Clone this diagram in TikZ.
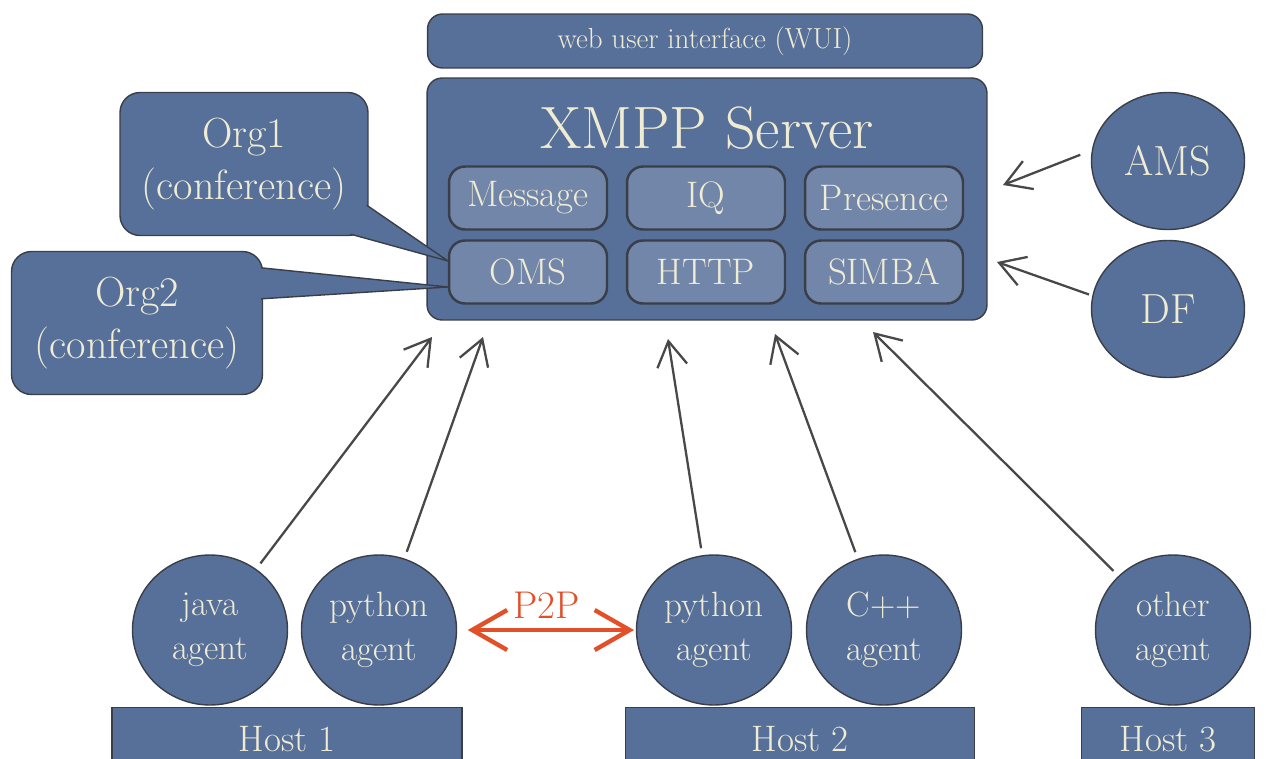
\documentclass[tikz,border=0pt]{standalone}
\usepackage{fontspec}
\usetikzlibrary{arrows.meta,shapes.geometric}

\definecolor{srvblue}{RGB}{87,112,153}
\definecolor{subblue}{RGB}{114,134,170}
\definecolor{edgegray}{RGB}{58,62,72}
\definecolor{cream}{RGB}{240,236,212}
\definecolor{arrowgray}{RGB}{72,72,72}
\definecolor{ptpred}{RGB}{226,80,42}

\begin{document}
\begin{tikzpicture}[x=0.02cm, y=-0.02cm,
        panel/.style={draw=edgegray, fill=srvblue, text=cream, line width=0.8pt},
        part/.style={panel, fill=subblue, rounded corners=0.32cm, line width=1.4pt,
            minimum width=3.16cm, minimum height=1.26cm, font=\fontsize{21}{25}\selectfont},
        agent/.style={panel, ellipse, inner sep=0pt, minimum width=3.1cm, minimum height=3cm,
            align=center, font=\fontsize{20}{25}\selectfont},
        host/.style={panel, anchor=north, minimum height=1.26cm, font=\fontsize{21}{25}\selectfont},
        org/.style={panel, rounded corners=0.4cm, minimum height=2.86cm,
            align=center, font=\fontsize{24}{29.5}\selectfont},
        pointer/.style={fill=srvblue},
        pointeredge/.style={draw=edgegray, line width=0.8pt, line join=round},
        link/.style={-{Straight Barb[length=5mm,width=6mm]}, arrowgray, line width=1.3pt,
            shorten <=4pt}]
        \clip (0,0) rectangle (1277,758);

        % Server
        \node[panel, rounded corners=0.3cm, minimum width=11.1cm, minimum height=1.08cm,
            font=\fontsize{16.5}{20}\selectfont] (wui) at (705,41) {web user interface (WUI)};
        \node[panel, rounded corners=0.3cm, minimum width=11.2cm, minimum height=4.84cm] (server) at (707,199) {};
        \node[text=cream, font=\fontsize{34}{40}\selectfont] (title) at (707,128) {XMPP Server};

        % Conferences
        \node[org, minimum width=4.96cm] (org1) at (244,164) {Org1\\(conference)};
        \node[org, minimum width=5.02cm] (org2) at (137,323) {Org2\\(conference)};
        \coordinate (tip1) at (448,261);
        \coordinate (tip2) at (448,287);
        \coordinate (b1a) at ([shift={(-2,-31)}]org1.south east);
        \coordinate (b1b) at ([shift={(-18,-2)}]org1.south east);
        \coordinate (b2a) at ([shift={(-2,17)}]org2.north east);
        \coordinate (b2b) at ([shift={(-2,48)}]org2.north east);
        \fill[pointer] ([shift={(-12,0)}]b1a) -- (b1a) -- (tip1) -- (b1b) -- ([shift={(-4,-10)}]b1b) -- cycle;
        \draw[pointeredge] (b1a) -- (tip1) -- (b1b);
        \fill[pointer] ([shift={(-10,0)}]b2a) -- (b2a) -- (tip2) -- (b2b) -- ([shift={(-10,0)}]b2b) -- cycle;
        \draw[pointeredge] (b2a) -- (tip2) -- (b2b);

        % Server parts
        \node[part] (msg) at (528,198) {Message};
        \node[part] (iq) at (706,198) {IQ};
        \node[part] (pres) at (884,198) {Presence};
        \node[part] (oms) at (528,272) {OMS};
        \node[part] (http) at (706,272) {HTTP};
        \node[part] (simba) at (884,272) {SIMBA};

        % AMS and DF
        \node[agent, minimum width=3.06cm, minimum height=2.74cm, font=\fontsize{24}{28}\selectfont] (ams) at (1168,161) {AMS};
        \node[agent, minimum width=3.06cm, minimum height=2.74cm, font=\fontsize{24}{28}\selectfont] (df) at (1168,309) {DF};
        \coordinate (ain) at (1003,185);
        \coordinate (din) at (997,262);
        \draw[link, shorten <=7pt] (ams.172) -- (ain);
        \draw[link, shorten <=2pt] (df.170) -- (din);

        % Agents
        \node[agent] (java) at (210,630) {java\\agent};
        \node[agent] (py1) at (379,630) {python\\agent};
        \node[agent] (py2) at (714,630) {python\\agent};
        \node[agent] (cpp) at (884,630) {C++\\agent};
        \node[agent] (other) at (1173,630) {other\\agent};

        % Hosts
        \node[host, minimum width=7cm] (host1) at (287,707) {Host 1};
        \node[host, minimum width=6.98cm] (host2) at (800,707) {Host 2};
        \node[host, minimum width=3.46cm] (host3) at (1168,707) {Host 3};

        % Agent connections
        \coordinate (in1) at (432,337);
        \coordinate (in2) at (483,337);
        \coordinate (in3) at (668,339);
        \coordinate (in4) at (775,334);
        \coordinate (in5) at (873,332);
        \draw[link] (java) -- (in1);
        \draw[link] (py1) -- (in2);
        \draw[link] (py2) -- (in3);
        \draw[link] (cpp) -- (in4);
        \draw[link] (other) -- (in5);

        % P2P
        \draw[{Straight Barb[length=7mm,width=8mm]}-{Straight Barb[length=7mm,width=8mm]}, ptpred, line width=2.5pt,
            shorten <=6pt, shorten >=1pt] (py1) -- (py2)
            node[midway, above=2pt, font=\fontsize{22}{26}\selectfont] (p2p) {P2P};
    \end{tikzpicture}
\end{document}
